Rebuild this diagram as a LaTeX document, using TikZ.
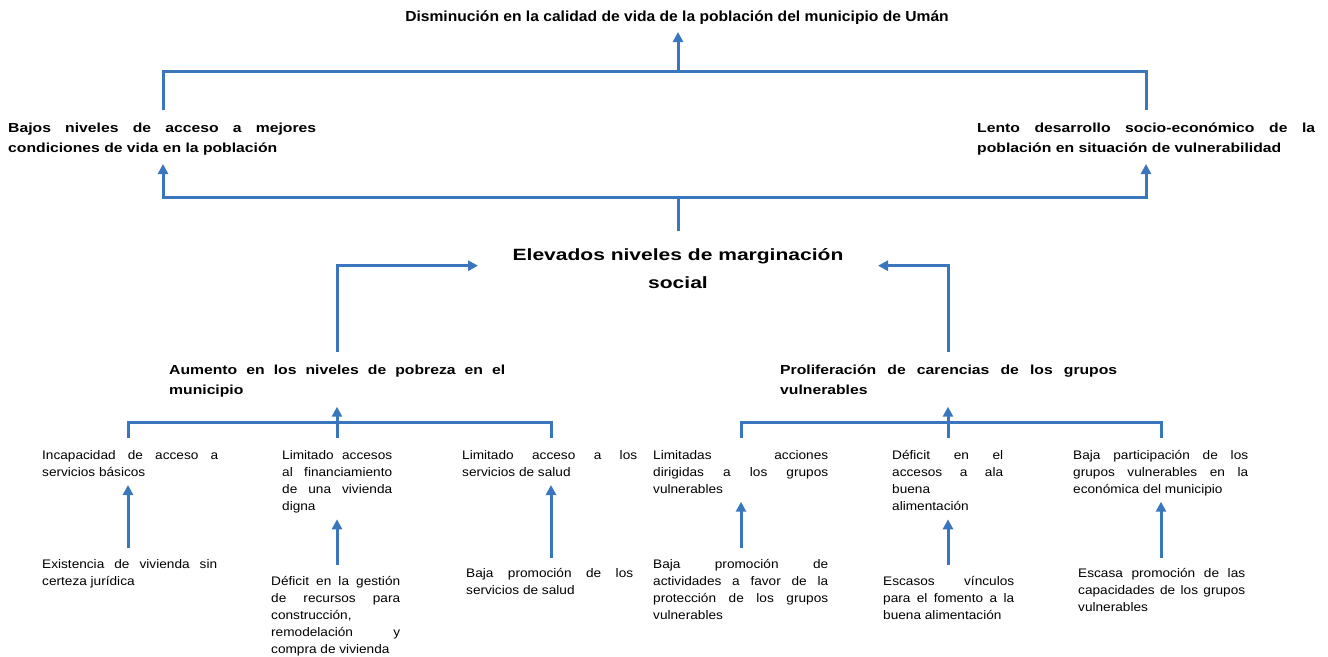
\documentclass[tikz,border=0pt]{standalone}
\usepackage{fontspec}
\setmainfont{Liberation Sans}
\newfontfamily\fsmall{Liberation Sans}[FakeStretch=1.1]
\newfontfamily\fhead{Liberation Sans}[FakeStretch=1.2]
\newfontfamily\ftitle{Liberation Sans}[FakeStretch=1.07]
\newfontfamily\fcenter{Liberation Sans}[FakeStretch=1.29]
\usetikzlibrary{arrows.meta}
\definecolor{lineblue}{HTML}{3A76BE}
\begin{document}
\begin{tikzpicture}[x=1pt,y=-1pt,
  conn/.style={draw=lineblue, line width=3pt},
  arr/.style={conn, -{Triangle[length=10pt,width=10pt]}},
  smalltxt/.style={anchor=base west, inner sep=0pt, text width=#1, align=justify,
    font=\fsmall\fontsize{12.4}{17}\selectfont},
  headtxt/.style={anchor=base west, inner sep=0pt, text width=#1, align=justify,
    font=\fhead\bfseries\fontsize{13.1}{20}\selectfont},
]
\useasboundingbox (0,0) rectangle (1328,656);
\fill[white] (0,0) rectangle (1328,656);

% texts
\node[anchor=base, inner sep=0pt, font=\ftitle\bfseries\fontsize{14.6}{18}\selectfont] (title) at (677,21)
  {Disminución en la calidad de vida de la población del municipio de Umán};
\node[headtxt=308pt] (lhead) at (8,132.7)
  {Bajos niveles de acceso a mejores\linebreak condiciones de vida en la población};
\node[headtxt=338pt] (rhead) at (977,132.7)
  {Lento desarrollo socio-económico de la\linebreak población en situación de vulnerabilidad};
\node[anchor=base, inner sep=0pt, align=center, font=\fcenter\bfseries\fontsize{16.3}{28}\selectfont] (core) at (678,288)
  {Elevados niveles de marginación\\social};
\node[headtxt=336pt] (aum) at (169,374.5)
  {Aumento en los niveles de pobreza en el\linebreak municipio};
\node[headtxt=337pt] (prol) at (780,374.5)
  {Proliferación de carencias de los grupos\linebreak vulnerables};

\node[smalltxt=176pt] (s1) at (42,459)
  {Incapacidad de acceso a\linebreak servicios básicos};
\node[smalltxt=110pt] (s2) at (282,459)
  {Limitado accesos\linebreak al financiamiento\linebreak de una vivienda\linebreak digna};
\node[smalltxt=175pt] (s3) at (462,459)
  {Limitado acceso a los\linebreak servicios de salud};
\node[smalltxt=175pt] (s4) at (653,459)
  {Limitadas acciones\linebreak dirigidas a los grupos\linebreak vulnerables};
\node[smalltxt=111pt] (s5) at (892,459)
  {Déficit en el\linebreak accesos a ala\linebreak buena\linebreak alimentación};
\node[smalltxt=175pt] (s6) at (1073,459)
  {Baja participación de los\linebreak grupos vulnerables en la\linebreak económica del municipio};

\node[smalltxt=175pt] (b1) at (42,568)
  {Existencia de vivienda sin\linebreak certeza jurídica};
\node[smalltxt=129pt] (b2) at (271,585)
  {Déficit en la gestión\linebreak de recursos para\linebreak construcción,\linebreak remodelación y\linebreak compra de vivienda};
\node[smalltxt=167pt] (b3) at (466,577)
  {Baja promoción de los\linebreak servicios de salud};
\node[smalltxt=175pt] (b4) at (653,568)
  {Baja promoción de\linebreak actividades a favor de la\linebreak protección de los grupos\linebreak vulnerables};
\node[smalltxt=131pt] (b5) at (883,585)
  {Escasos vínculos\linebreak para el fomento a la\linebreak buena alimentación};
\node[smalltxt=167pt] (b6) at (1078,577)
  {Escasa promoción de las\linebreak capacidades de los grupos\linebreak vulnerables};

% junction coordinates
\coordinate (tm) at (678,71);
\coordinate (ttip) at (678,32);
\coordinate (lheadtop) at (163,110);
\coordinate (rheadtop) at (1146,110);
\coordinate (mm) at (678,197);
\coordinate (corett) at (678,231);
\coordinate (ltip) at (163,164);
\coordinate (rtip) at (1146,164);
\coordinate (aumtop) at (337,352);
\coordinate (coreL) at (478,265.7);
\coordinate (prolatop) at (948,352);
\coordinate (coreR) at (878,265.7);
\coordinate (aj) at (337,422.7);
\coordinate (atip) at (337,406.7);
\coordinate (pj) at (948,422.7);
\coordinate (ptip) at (948,406.7);
\coordinate (s1t) at (128,438);
\coordinate (s2t) at (337,438);
\coordinate (s3t) at (551,438);
\coordinate (s4t) at (741,438);
\coordinate (s5t) at (948,438);
\coordinate (s6t) at (1161,438);

% top connectors
\draw[conn] (lheadtop) |- (tm) -| (rheadtop);
\draw[arr] (tm) -- (ttip);
\draw[conn] (corett) -- (mm);
\draw[arr] (mm) -| (ltip);
\draw[arr] (mm) -| (rtip);
\draw[arr] (aumtop) |- (coreL);
\draw[arr] (prolatop) |- (coreR);

% lower trees
\draw[conn] (s1t) |- (aj) -| (s3t);
\draw[conn] (aj) -- (s2t);
\draw[arr] (aj) -- (atip);
\draw[conn] (s4t) |- (pj) -| (s6t);
\draw[conn] (pj) -- (s5t);
\draw[arr] (pj) -- (ptip);

% small arrows
\draw[arr] (128,548.3) -- (128,485);
\draw[arr] (337,565) -- (337,519.3);
\draw[arr] (551,557.7) -- (551,485);
\draw[arr] (741,548.3) -- (741,501.7);
\draw[arr] (948,565) -- (948,519.3);
\draw[arr] (1161,557.7) -- (1161,501.7);
\end{tikzpicture}
\end{document}
